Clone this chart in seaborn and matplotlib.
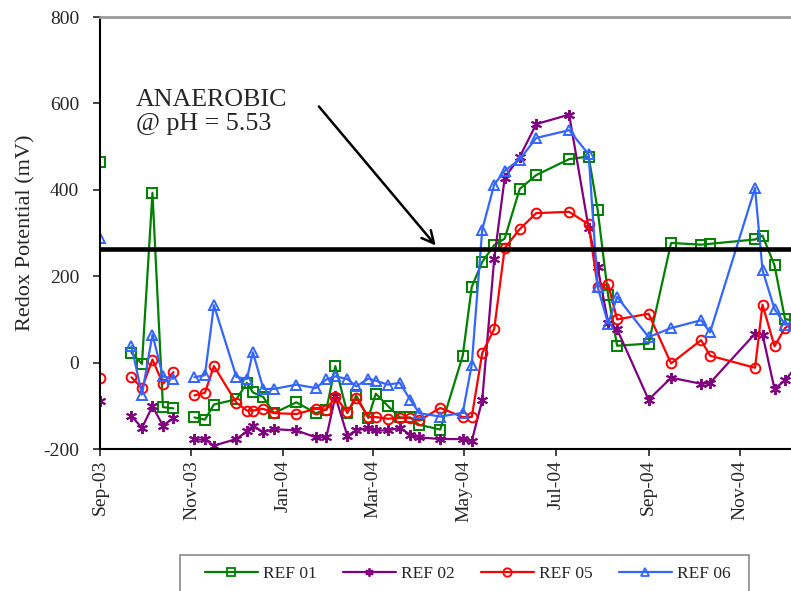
import numpy as np
import pandas as pd
import matplotlib
matplotlib.use("Agg")
import matplotlib.pyplot as plt
import matplotlib.dates as mdates
from matplotlib.lines import Line2D
from matplotlib.patches import Rectangle
import seaborn as sns

# ---------------- data (NaN rows = gaps in the record) ----------------
dates = ["2003-09-01", "2003-09-10", "2003-09-22", "2003-09-29", "2003-10-06", "2003-10-13",
         "2003-10-20", "2003-10-27", "2003-11-03", "2003-11-10", "2003-11-16", "2003-12-01",
         "2003-12-08", "2003-12-12", "2003-12-19", "2003-12-26", "2004-01-10", "2004-01-23",
         "2004-01-30", "2004-02-05", "2004-02-13", "2004-02-19", "2004-02-27", "2004-03-03",
         "2004-03-11", "2004-03-19", "2004-03-26", "2004-04-01", "2004-04-15", "2004-04-30",
         "2004-05-06", "2004-05-13", "2004-05-21", "2004-05-28", "2004-06-07", "2004-06-18",
         "2004-07-10", "2004-07-23", "2004-07-29", "2004-08-05", "2004-08-11", "2004-09-01",
         "2004-09-16", "2004-10-06", "2004-10-12", "2004-11-11", "2004-11-16", "2004-11-24",
         "2004-12-01", "2004-12-09"]
nan = np.nan
ref01 = [465, nan, 23, -3, 393, -103, -106, nan, -127, -132, -97, -85, -47, -69, -80, -117,
         -92, -117, -109, -8, -117, -76, -128, -72, -100, -127, -127, -144, -155, 16, 175, 233,
         272, 287, 402, 434, 471, 477, 354, 156, 39, 44, 277, 273, 275, 285, 294, 225, 101, 95]
ref02 = [-89, nan, -124, -151, -101, -146, -128, nan, -178, -178, -192, -177, -159, -146, -161,
         -154, -157, -173, -173, -78, -169, -157, -151, -157, -157, -151, -167, -173, -177, -177,
         -182, -87, 240, 428, 476, 552, 574, 311, 221, 92, 77, -86, -35, -49, -47, 67, 65, -61,
         -41, -8]
ref05 = [-35, nan, -34, -59, 7, -49, -22, nan, -76, -70, -8, -93, -111, -111, -107, -117, -119,
         -107, -109, -79, -115, -82, -126, -126, -130, -128, -128, -134, -105, -126, -126, 22, 78,
         265, 309, 346, 349, 320, 176, 181, 100, 113, -2, 52, 16, -12, 134, 38, 80, 100]
ref06 = [289, nan, 38, -74, 65, -32, -37, nan, -34, -29, 133, -33, -38, 24, -61, -61, -51, -59,
         -39, -32, -38, -55, -37, -42, -51, -47, -86, -117, -125, -116, -5, 308, 412, 444, 470,
         520, 538, 482, 175, 90, 152, 59, 80, 98, 70, 404, 214, 124, 88, 95]
series_names = ["REF 01", "REF 02", "REF 05", "REF 06"]
anaerobic_level = 263
annot_text = "ANAEROBIC\n@ pH = 5.53"
y_ticks = [-200, 0, 200, 400, 600, 800]

colors = ["#008000", "#800080", "#FF0000", "#3366FF"]
markers = ["s", (6, 2, 0), "o", "^"]

# ---------------- long-form table ----------------
frames = []
for name, vals in zip(series_names, [ref01, ref02, ref05, ref06]):
    d = pd.DataFrame({"date": pd.to_datetime(dates), "value": vals})
    d["seg"] = d["value"].isna().cumsum()
    d["series"] = name
    frames.append(d.dropna())
df = pd.concat(frames, ignore_index=True)

sns.set_style("ticks")
plt.rcParams["font.family"] = ["Liberation Serif", "DejaVu Serif"]
plt.rcParams["axes.unicode_minus"] = False

fig = plt.figure(figsize=(7.91, 5.91), dpi=100)
ax = fig.add_axes([100 / 791, 1 - 449 / 591, 691 / 791, 432 / 591])

for name, c, m in zip(series_names, colors, markers):
    sub = df[df["series"] == name]
    face = c if m == (6, 2, 0) else "none"
    sns.lineplot(data=sub, x="date", y="value", units="seg", estimator=None, ax=ax,
                 color=c, lw=1.6, marker=m, markersize=7 if m != (6, 2, 0) else 8,
                 markerfacecolor=face, markeredgecolor=c, markeredgewidth=1.4,
                 legend=False, clip_on=True)

ax.axhline(anaerobic_level, color="black", lw=3.3, zorder=5)

start = pd.Timestamp("2003-09-01")
ax.set_xlim(start, start + pd.Timedelta(days=461))
ax.set_ylim(-200, 800)
ax.set_yticks(y_ticks)
ax.xaxis.set_major_locator(mdates.MonthLocator(bymonth=[1, 3, 5, 7, 9, 11]))
ax.xaxis.set_major_formatter(mdates.DateFormatter("%b-%y"))
ax.tick_params(axis="x", direction="out", length=5, width=1.2, labelsize=14,
               rotation=90, pad=3, bottom=True)
ax.tick_params(axis="y", direction="out", length=5, width=1.2, labelsize=14,
               pad=10, left=True)
ax.set_xlabel("")
ax.set_ylabel("Redox Potential (mV)", fontsize=16)
ax.yaxis.set_label_coords(-0.094, 0.5)

for s in ["left", "bottom"]:
    ax.spines[s].set_color("black")
    ax.spines[s].set_linewidth(1.5)
ax.spines["top"].set_color("#9a9a9a")
ax.spines["top"].set_linewidth(2)
ax.spines["right"].set_visible(False)

# annotation
ax.text(start + pd.Timedelta(days=24), 634, annot_text, fontsize=18.7,
        ha="left", va="top", linespacing=1.15)
ax.annotate("", xy=(start + pd.Timedelta(days=224), 271),
            xytext=(start + pd.Timedelta(days=146), 593),
            arrowprops=dict(arrowstyle="->", lw=1.8, color="black", mutation_scale=22,
                            shrinkA=0, shrinkB=0))

# legend
handles = []
for name, c, m in zip(series_names, colors, markers):
    face = c if m == (6, 2, 0) else "none"
    handles.append(Line2D([], [], color=c, lw=1.6, marker=m, markersize=6,
                          markerfacecolor=face, markeredgecolor=c, markeredgewidth=1.3))
fig.legend(handles, series_names, loc="center left", ncol=4, frameon=False,
           bbox_to_anchor=(205 / 791, 1 - 574 / 591), borderpad=0, borderaxespad=0,
           fontsize=12.5, handlelength=3.05, handletextpad=0.3, columnspacing=1.5)
fig.patches.append(Rectangle((180 / 791, -0.05), (749 - 180) / 791, 0.05 + 36 / 591,
                             transform=fig.transFigure, fill=False,
                             edgecolor="#8a8a8a", lw=1.2))

fig.savefig("out.png", dpi=100)
